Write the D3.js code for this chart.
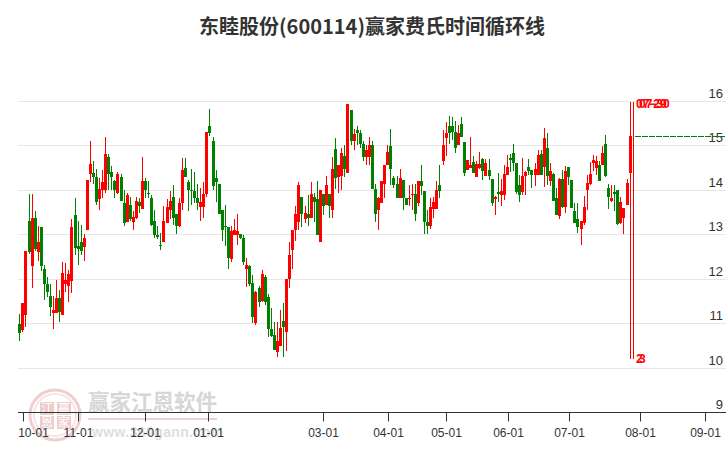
<!DOCTYPE html>
<html><head><meta charset="utf-8">
<script src="https://cdn.jsdelivr.net/npm/d3@7/dist/d3.min.js"></script>
<style>html,body{margin:0;padding:0;background:#fff}svg{display:block}</style>
</head><body><div id="c"></div>
<script>
const titleText = "东睦股份(600114)赢家费氏时间循环线";
const yTicks = [9,10,11,12,13,14,15,16];
const xTickLabels = ["10-01","11-01","12-01","01-01","03-01","04-01","05-01","06-01","07-01","08-01","09-01"];
const xTickIndex = [1.3,19.2,41.1,61.6,99.1,120.3,139.2,159.4,179.3,202.5,223.7];
const cycleIndex = [199,200];
const cycleTopLabels = ["07-29","07-30"];
const cycleBottomLabels = ["2","3"];
const cycleHigh = 15.96, cycleLow = 10.2, lastLevel = 15.2;
const open = [
10.97,10.84,11.18,13.30,12.28,13.37,12.59,13.15,12.22,11.87,
11.60,11.23,11.23,11.56,11.18,11.87,11.84,11.94,13.42,12.74,
12.81,12.70,13.08,14.34,14.36,14.29,13.78,13.98,14.00,14.72,
14.40,14.20,13.93,14.27,13.69,13.28,13.66,13.26,13.35,13.71,
13.57,14.20,13.93,13.82,13.30,12.97,12.76,12.81,13.24,13.53,
13.84,13.44,13.19,13.69,14.49,14.16,14.00,13.96,13.80,13.60,
13.60,13.89,15.42,15.10,14.25,14.13,13.55,13.19,13.15,12.43,
12.97,12.97,12.99,12.90,12.22,12.29,11.91,11.01,11.78,11.50,
12.04,11.58,10.87,10.72,10.35,10.48,11.05,10.79,12.00,12.65,
13.10,13.26,13.84,13.33,13.46,13.37,13.84,13.78,12.83,13.91,
13.66,13.91,13.55,14.90,14.29,14.31,14.76,14.38,15.78,15.08,
15.33,15.26,15.03,14.74,14.74,15.01,14.02,13.55,13.69,14.13,
14.54,14.97,14.25,14.13,13.80,14.22,13.80,13.78,13.87,13.91,
13.69,14.18,13.96,13.26,13.17,13.57,13.57,14.09,14.65,15.15,
15.42,15.42,15.30,14.99,15.48,15.06,14.43,14.49,14.61,14.29,
14.49,14.69,14.31,14.44,14.24,13.78,13.95,13.88,13.88,14.33,
14.71,14.82,14.60,14.10,13.95,14.31,14.51,14.44,14.33,14.33,
14.80,14.51,14.93,14.19,14.35,13.81,13.41,14.24,13.61,14.51,
14.22,13.52,13.34,13.12,13.25,13.99,14.13,14.60,14.49,14.55,
14.55,15.02,14.04,13.75,13.95,13.99,13.25,13.37,13.66,14.37];
const close = [
10.78,11.44,12.61,12.59,13.37,12.67,12.83,12.28,11.87,11.70,
11.35,11.30,11.57,11.24,12.13,11.96,12.09,13.15,12.69,12.67,
12.61,12.90,14.22,14.58,14.27,13.71,14.02,14.16,14.79,14.34,
14.29,14.00,14.34,13.75,13.24,13.87,13.33,13.39,13.75,13.62,
14.20,13.98,13.91,13.21,12.97,12.94,12.72,13.30,13.60,13.75,
13.37,13.17,13.69,14.43,14.29,13.98,13.96,13.80,13.69,13.71,
13.89,15.30,15.28,14.07,14.16,13.46,13.10,13.17,12.45,13.06,
13.10,13.06,12.92,12.36,12.31,11.87,11.13,11.70,11.48,12.09,
11.48,10.87,10.70,10.39,10.59,10.89,10.90,12.00,12.52,13.08,
13.44,14.09,13.44,13.48,13.37,13.89,13.71,12.97,13.98,13.64,
14.09,13.64,14.47,14.25,14.54,14.81,14.45,15.93,15.08,15.24,
15.28,15.03,14.74,14.88,14.99,14.02,13.46,13.80,14.20,14.56,
14.85,14.47,14.11,13.82,14.25,13.82,13.66,13.80,13.91,13.44,
14.20,14.07,13.28,13.17,13.60,13.73,13.98,13.96,15.01,15.28,
15.28,15.30,14.94,15.28,15.19,14.38,14.67,14.56,14.38,14.58,
14.58,14.42,14.60,14.31,13.69,13.84,13.90,13.97,14.35,14.51,
14.67,14.59,13.95,13.88,14.31,14.40,14.42,14.33,14.46,14.78,
14.33,15.16,14.31,14.42,13.75,13.43,14.24,13.61,14.42,14.28,
13.59,13.25,13.16,13.30,13.61,14.15,14.35,14.66,14.64,14.19,
14.82,14.31,13.84,13.81,13.90,13.23,13.72,13.59,14.15,15.20];
const high = [
11.20,11.44,12.61,13.89,13.89,13.51,13.19,13.15,12.31,12.04,
11.87,11.60,11.96,11.74,12.36,12.34,12.18,13.33,13.80,13.30,
13.21,12.99,14.22,15.08,14.65,14.47,14.25,14.43,15.19,14.79,
14.52,14.22,14.40,14.34,13.98,13.93,13.84,13.51,13.84,13.80,
14.74,14.25,14.18,13.87,13.53,13.19,13.03,13.64,13.78,13.96,
14.09,13.44,13.82,14.70,14.70,14.22,14.45,14.40,14.13,14.04,
14.16,15.30,15.80,15.17,14.43,14.13,13.55,13.66,13.15,13.19,
13.33,13.44,13.01,12.97,12.45,12.31,12.07,11.72,11.83,12.20,
12.07,11.65,11.33,11.03,11.03,11.30,11.46,12.00,12.83,13.08,
13.62,14.16,13.84,13.64,13.87,14.16,13.93,14.20,14.00,13.91,
14.31,13.91,14.74,15.15,14.54,14.94,15.00,15.93,15.78,15.35,
15.42,15.33,15.10,14.99,15.19,15.08,14.13,13.84,14.20,14.56,
15.00,15.35,14.31,14.31,14.45,14.22,13.80,14.09,14.13,14.13,
14.20,14.54,13.96,13.55,13.82,13.84,14.18,14.54,15.33,15.51,
15.66,15.62,15.53,15.46,15.64,15.06,14.67,15.19,14.76,14.63,
14.85,14.70,14.69,14.69,14.24,13.85,14.37,14.24,14.55,14.78,
14.80,15.02,14.60,14.33,14.71,14.42,14.69,14.44,14.60,14.89,
14.89,15.38,15.27,14.60,14.37,14.04,14.26,14.44,14.53,14.51,
14.22,13.70,13.70,13.30,13.86,14.33,14.62,14.78,14.75,14.64,
14.98,15.22,14.13,14.10,14.10,13.99,13.84,13.59,14.24,15.51];
const low = [
10.60,10.80,10.91,12.54,11.78,12.61,12.40,12.16,11.51,11.58,
11.15,10.87,11.22,11.02,11.18,11.69,11.47,11.68,12.52,12.31,
12.52,12.40,13.08,14.16,14.13,13.66,13.55,13.80,13.93,14.00,
14.00,13.82,13.89,13.75,13.19,13.26,13.30,13.10,13.33,13.48,
13.57,13.80,13.80,13.17,12.90,12.88,12.65,12.81,13.24,13.33,
13.21,12.99,13.15,13.55,14.29,13.51,13.66,13.69,13.55,13.30,
13.35,13.84,15.21,13.98,13.71,13.46,12.85,12.74,12.22,12.38,
12.97,12.76,12.88,12.31,11.82,11.84,11.01,10.96,11.37,11.48,
11.41,10.68,10.68,10.39,10.24,10.48,10.24,10.37,11.78,12.22,
12.85,13.10,13.15,13.24,13.19,13.37,13.28,12.97,12.81,13.42,
13.66,13.37,13.37,14.02,13.93,14.00,14.27,14.38,14.99,14.88,
14.99,14.94,14.65,14.56,14.54,14.02,13.28,13.10,13.69,13.80,
14.54,14.09,14.04,13.82,13.80,13.55,13.66,13.62,13.53,13.30,
13.62,13.87,12.99,12.99,13.12,13.37,13.57,13.82,14.54,14.76,
15.03,15.12,14.81,14.99,15.19,14.31,14.43,14.49,14.36,14.29,
14.47,14.22,14.31,14.22,13.62,13.42,13.73,13.62,13.77,14.33,
14.40,14.42,13.90,13.73,13.88,13.88,14.33,14.04,14.08,14.33,
14.33,14.06,14.10,14.08,13.75,13.43,13.34,13.59,13.48,14.10,
13.59,13.25,13.03,12.76,13.21,13.54,14.10,14.42,14.33,14.19,
14.55,14.28,13.57,13.73,13.52,13.21,13.23,13.01,13.66,14.37];

const W=726,H=450,FONT='"Liberation Sans",Arial,sans-serif',CJK='"Noto Sans CJK SC",sans-serif';
const svg=d3.select("#c").append("svg").attr("width",W).attr("height",H).attr("viewBox",`0 0 ${W} ${H}`);
const x=d3.scaleLinear().domain([0,199]).range([19.3,629.6]);
const y=d3.scaleLinear().domain([9,16]).range([412,100.5]);
const px=v=>Math.round(x(v));
const py=v=>Math.round(y(v));

// watermark
const wm=svg.append("g").attr("class","watermark");
wm.append("circle").attr("cx",55).attr("cy",415).attr("r",25).attr("fill","none").attr("stroke","#efcfcf").attr("stroke-width",3);
wm.append("circle").attr("cx",55).attr("cy",415).attr("r",21).attr("fill","none").attr("stroke","#f6e4e4").attr("stroke-width",2);
[["江",40,402],["赢",57,402],["恩",40,416],["家",57,416]].forEach(d=>{
  wm.append("rect").attr("x",d[1]).attr("y",d[2]).attr("width",14).attr("height",13).attr("fill","#efcccc");
  wm.append("text").attr("x",d[1]+7).attr("y",d[2]+11).attr("text-anchor","middle").attr("font-family",CJK).attr("font-size",12).attr("fill","#fff").text(d[0]);
});
wm.append("text").attr("x",88).attr("y",410).attr("font-family",CJK).attr("font-weight","bold").attr("font-size",21.5).attr("fill","#d6d6d6").text("赢家江恩软件");
wm.append("rect").attr("x",88).attr("y",418).attr("width",129).attr("height",2).attr("fill","#ecd2d2");
wm.append("text").attr("x",92).attr("y",437).attr("font-family",FONT).attr("font-weight","bold").attr("font-size",14).attr("letter-spacing",0.4).attr("fill","#dedede").text("www.360gann.com");

// grid
svg.append("g").selectAll("line").data(yTicks.filter(t=>t>9)).join("line")
  .attr("x1",18).attr("x2",W).attr("y1",d=>py(d)+.5).attr("y2",d=>py(d)+.5).attr("stroke","#e6e6e6");

// x axis
const xAxis=d3.axisBottom(x).tickValues(xTickIndex).tickSize(9).tickPadding(7).tickFormat((d,i)=>xTickLabels[i]);
const gx=svg.append("g").attr("transform",`translate(0,${py(9)+.5})`).call(xAxis);
gx.select(".domain").attr("d",`M18,0H${W}`).attr("stroke","#333");
gx.selectAll(".tick").attr("transform",d=>`translate(${px(d)+.5},0)`);
gx.selectAll(".tick line").attr("stroke","#333");
gx.selectAll(".tick text").attr("font-family",FONT).attr("font-size",12).attr("fill","#333")
  .attr("dx",(d,i)=>i===0?10:0);

// y labels
svg.append("g").selectAll("text").data(yTicks).join("text")
  .attr("x",723).attr("y",d=>py(d)-3).attr("text-anchor","end").attr("font-family",FONT).attr("font-size",13).attr("fill","#333").text(d=>d);

// candles
const idx=d3.range(open.length);
const col=i=>close[i]>=open[i]?"#ff0000":"#008000";
const g=svg.append("g").attr("shape-rendering","crispEdges");
g.selectAll("line").data(idx).join("line")
  .attr("x1",i=>px(i)+.5).attr("x2",i=>px(i)+.5).attr("y1",i=>y(high[i])).attr("y2",i=>y(low[i])).attr("stroke",col);
g.selectAll("rect").data(idx).join("rect")
  .attr("x",i=>px(i)-1).attr("width",3)
  .attr("y",i=>y(Math.max(open[i],close[i])))
  .attr("height",i=>Math.max(1,Math.abs(y(open[i])-y(close[i]))))
  .attr("fill",col);

// cycle lines
svg.append("g").attr("shape-rendering","crispEdges").selectAll("line").data(cycleIndex).join("line")
  .attr("x1",d=>px(d)+.5).attr("x2",d=>px(d)+.5).attr("y1",y(cycleHigh)).attr("y2",y(cycleLow)).attr("stroke","#ff0000");
svg.append("line").attr("x1",635).attr("x2",W).attr("y1",py(lastLevel)+.5).attr("y2",py(lastLevel)+.5)
  .attr("stroke","#008000").attr("stroke-dasharray","6,1");
const lab=svg.append("g").attr("font-family",FONT).attr("font-size",12).attr("font-weight","bold").attr("fill","#ff0000");
cycleTopLabels.forEach((t,i)=>lab.append("text").attr("x",636+i*3).attr("y",108).text(t));
cycleBottomLabels.forEach((t,i)=>lab.append("text").attr("x",636+i*3).attr("y",363).text(t));

// title
svg.append("text").attr("x",372).attr("y",34).attr("text-anchor","middle").attr("font-family",CJK).attr("font-weight","bold").attr("font-size",20).attr("fill","#333").text(titleText);
</script></body></html>
